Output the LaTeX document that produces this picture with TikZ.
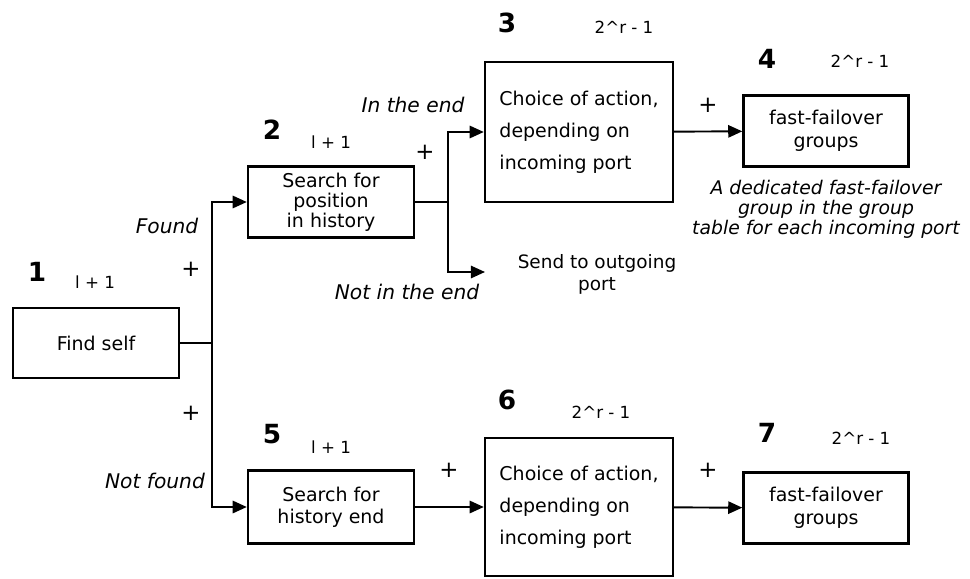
\documentclass[tikz,border=0pt]{standalone}
\usepackage{fontspec}
\setmainfont{DejaVu Sans}
\usetikzlibrary{arrows.meta}

\begin{document}
\begin{tikzpicture}[
    x=0.02cm, y=-0.02cm,
    >={Triangle[length=8pt,width=7pt]},
    box/.style={draw, line width=1.4pt, align=center, inner sep=1pt,
                font=\fontsize{10.8}{11.5}\selectfont},
    num/.style={font=\bfseries\fontsize{15}{15}\selectfont},
    cost/.style={font=\fontsize{9.5}{9.5}\selectfont},
    plus/.style={font=\fontsize{13}{13}\selectfont},
    cond/.style={font=\itshape\fontsize{11.5}{12}\selectfont},
    note/.style={align=center, font=\itshape\fontsize{10.7}{11.3}\selectfont},
    conn/.style={line width=1.1pt},
]
\useasboundingbox (0,0) rectangle (970,578);

% Stage boxes
\node[box, minimum width=3.32cm, minimum height=1.4cm] (find) at (96,343) {Find self};
\node[box, minimum width=3.32cm, minimum height=1.42cm] (pos) at (331,202)
    {Search for\\position\\in history};
\node[box, minimum width=3.76cm, minimum height=2.8cm, align=left,
      font=\fontsize{10.8}{18.2}\selectfont] (act1) at (579,132)
    {Choice of action,\\depending on\\incoming port};
\node[box, minimum width=3.3cm, minimum height=1.42cm,
      font=\fontsize{10.8}{13}\selectfont] (ff1) at (826,131)
    {fast-failover\\groups};
\node[box, minimum width=3.32cm, minimum height=1.46cm,
      font=\fontsize{10.8}{12.5}\selectfont] (hend) at (331,507)
    {Search for\\history end};
\node[box, minimum width=3.76cm, minimum height=2.76cm, align=left,
      font=\fontsize{10.8}{18.2}\selectfont] (act2) at (579,507)
    {Choice of action,\\depending on\\incoming port};
\node[box, minimum width=3.3cm, minimum height=1.42cm,
      font=\fontsize{10.8}{13}\selectfont] (ff2) at (826,508)
    {fast-failover\\groups};

% Stage numbers and table sizes
\node[num] (n1) at (37,272) {1};
\node[cost] (c1) at (95,282) {l + 1};
\node[num] (n2) at (272,130) {2};
\node[cost] (c2) at (331,142) {l + 1};
\node[num] (n3) at (507,23) {3};
\node[cost] (c3) at (624,27) {2\^{}r - 1};
\node[num] (n4) at (767,59) {4};
\node[cost] (c4) at (860,61) {2\^{}r - 1};
\node[num] (n5) at (272,434) {5};
\node[cost] (c5) at (331,447) {l + 1};
\node[num] (n6) at (507,400) {6};
\node[cost] (c6) at (601,412) {2\^{}r - 1};
\node[num] (n7) at (767,433) {7};
\node[cost] (c7) at (861,438) {2\^{}r - 1};

% Plus signs
\node[plus] (p1) at (191,269) {+};
\node[plus] (p2) at (191,413) {+};
\node[plus] (p3) at (425,152) {+};
\node[plus] (p4) at (708,105) {+};
\node[plus] (p5) at (449,470) {+};
\node[plus] (p6) at (708,470) {+};

% Branch conditions
\node[cond] (found) at (167,226) {Found};
\node[cond] (notfound) at (155,481) {Not found};
\node[cond] (inend) at (413,105) {In the end};
\node[cond] (notinend) at (407,292) {Not in the end};

% Other texts
\node[align=center, font=\fontsize{10.5}{12.5}\selectfont] (sendlbl) at (597,274)
    {Send to outgoing\\port};
\node[note] (ffnote) at (826,209)
    {A dedicated fast-failover\\group in the group\\table for each incoming port};

% Connectors
\coordinate (fork1) at (212,343);
\coordinate (fork2) at (448,202);
\coordinate (send) at (485,272);
\draw[conn] (find.east) -- (fork1);
\draw[conn, ->] (fork1) |- (pos.west);
\draw[conn, ->] (fork1) |- (hend.west);
\draw[conn] (pos.east) -- (fork2);
\draw[conn, ->] (fork2) |- (act1.west);
\draw[conn, ->] (fork2) |- (send);
\draw[conn, ->] (act1) -- (ff1);
\draw[conn, ->] (hend) -- (act2);
\draw[conn, ->] (act2) -- (ff2);
\end{tikzpicture}
\end{document}
